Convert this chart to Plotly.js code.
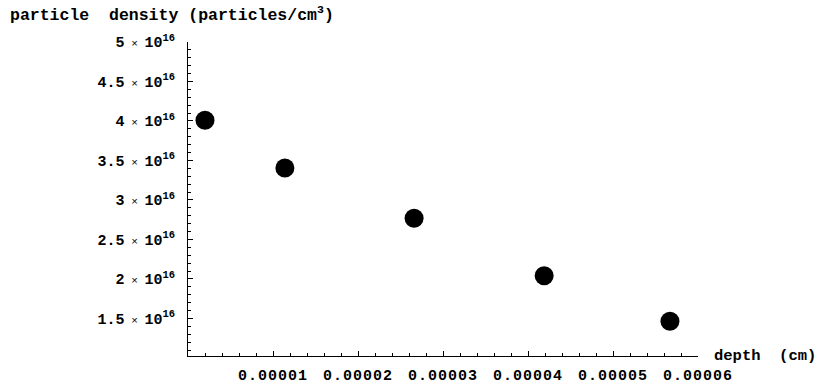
<!DOCTYPE html>
<html>
<head>
<meta charset="utf-8">
<script src="https://cdn.plot.ly/plotly-3.0.1.min.js"></script>
<style>
  html, body { margin: 0; padding: 0; background: #fff; }
  #chart { width: 819px; height: 387px; }
  #chart .xtick text { letter-spacing: 1px; }
</style>
</head>
<body>
<div id="chart"></div>
<script>
// Data
const depth = [2.0e-6, 1.14e-5, 2.66e-5, 4.19e-5, 5.67e-5];          // cm
const density = [4.01e16, 3.405e16, 2.77e16, 2.04e16, 1.465e16];    // particles/cm^3

const xTickVals = [1e-5, 2e-5, 3e-5, 4e-5, 5e-5, 6e-5];
const xTickText = ["0.00001", "0.00002", "0.00003", "0.00004", "0.00005", "0.00006"];
const yTickVals = [1.5e16, 2e16, 2.5e16, 3e16, 3.5e16, 4e16, 4.5e16, 5e16];
const yTickMant = ["1.5", "2", "2.5", "3", "3.5", "4", "4.5", "5"];
const yTickText = yTickMant.map(m => m + '<span style="font-weight:normal;font-size:11px"> × </span>10<sup>16</sup>');

const FONT = "Liberation Mono, Courier New, monospace";

const trace = {
  x: depth,
  y: density,
  type: 'scatter',
  mode: 'markers',
  marker: { color: '#000', size: 19 },
  cliponaxis: false,
  hoverinfo: 'skip'
};

const layout = {
  width: 819,
  height: 387,
  margin: { l: 188, r: 121, t: 42, b: 31, pad: 0 },
  paper_bgcolor: '#fff',
  plot_bgcolor: '#fff',
  showlegend: false,
  font: { family: FONT, size: 15, color: '#000', weight: 'bold' },
  xaxis: {
    range: [0, 6e-5],
    showgrid: false,
    zeroline: false,
    showline: true,
    linecolor: '#000',
    linewidth: 1,
    ticks: 'inside',
    ticklen: 5,
    tickcolor: '#000',
    tickmode: 'array',
    tickvals: xTickVals,
    ticktext: xTickText,
    tickfont: { family: FONT, size: 15, color: '#000', weight: 'bold' },
    ticklabelstandoff: 5,
    minor: { dtick: 2e-6, ticks: 'inside', ticklen: 3, tickcolor: '#000', showgrid: false },
    automargin: false,
    fixedrange: true
  },
  yaxis: {
    range: [1.025e16, 5e16],
    showgrid: false,
    zeroline: false,
    showline: true,
    linecolor: '#000',
    linewidth: 1,
    ticks: 'inside',
    ticklen: 5,
    tickcolor: '#000',
    tickmode: 'array',
    tickvals: yTickVals,
    ticktext: yTickText,
    tickfont: { family: FONT, size: 15, color: '#000', weight: 'bold' },
    ticklabelstandoff: 9,
    minor: { dtick: 1e15, tick0: 0, ticks: 'inside', ticklen: 3, tickcolor: '#000', showgrid: false },
    automargin: false,
    fixedrange: true
  },
  annotations: [
    {
      text: 'particle  density (particles/cm<sup>3</sup>)',
      xref: 'paper', yref: 'paper',
      x: -188 / 510 + 8 / 510, y: 1,
      xanchor: 'left', yanchor: 'bottom',
      yshift: 15,
      showarrow: false,
      font: { family: FONT, size: 16.5, color: '#000', weight: 'bold' }
    },
    {
      text: 'depth  (cm)',
      xref: 'paper', yref: 'paper',
      x: 1, y: 0,
      xanchor: 'left', yanchor: 'middle',
      xshift: 14, yshift: 0,
      showarrow: false,
      font: { family: FONT, size: 15.5, color: '#000', weight: 'bold' }
    }
  ]
};

Plotly.newPlot('chart', [trace], layout, { staticPlot: true, displayModeBar: false });
</script>
</body>
</html>
